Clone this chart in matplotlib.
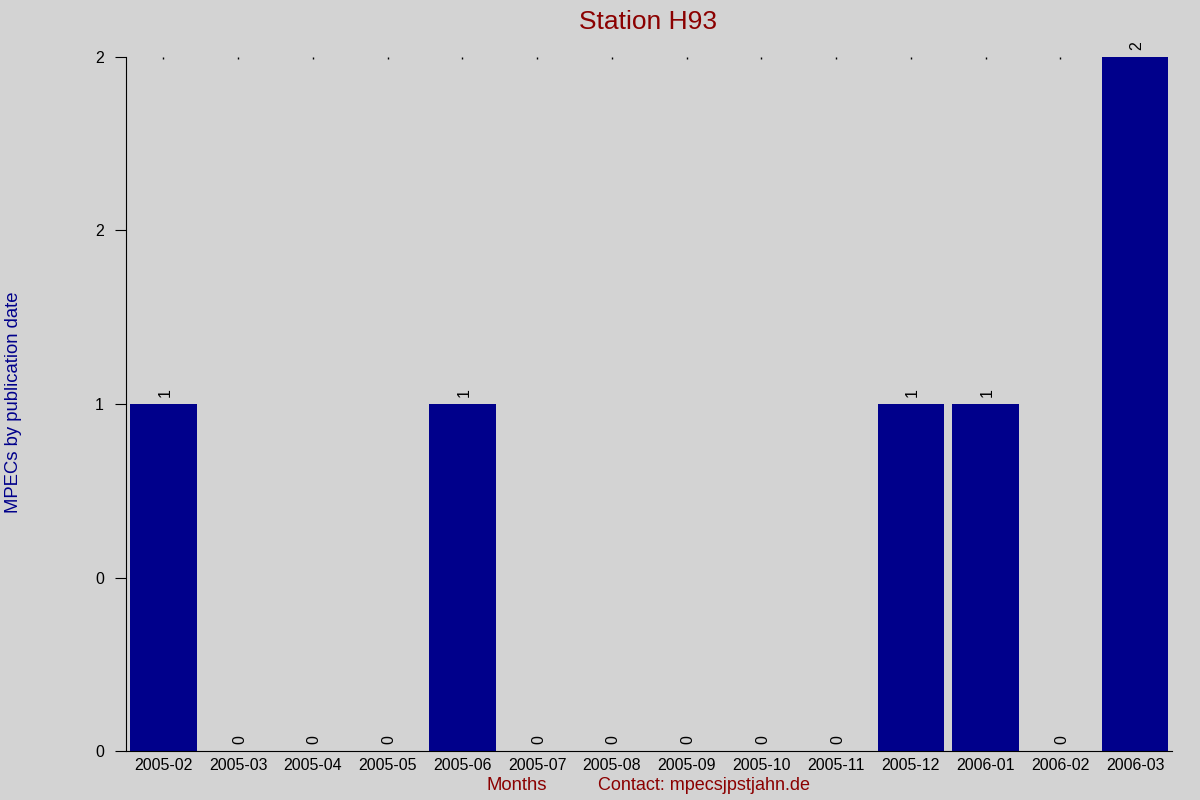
import matplotlib
import matplotlib.pyplot as plt
import numpy as np
from matplotlib.ticker import FuncFormatter

matplotlib.use("Agg")

months = [
	"2005-02", "2005-03", "2005-04", "2005-05", "2005-06", "2005-07", "2005-08",
	"2005-09", "2005-10", "2005-11", "2005-12", "2006-01", "2006-02", "2006-03",
]
counts = [1, 0, 0, 0, 1, 0, 0, 0, 0, 0, 1, 1, 0, 2]
y_ticks = [0, 0.5, 1, 1.5, 2]

plt.rcParams["font.family"] = ["Liberation Sans", "DejaVu Sans"]

bg = "#d3d3d3"
fig = plt.figure(figsize=(12, 8), dpi=100, facecolor=bg)
ax = fig.add_axes([0.105, 0.061, 0.872, 0.868], facecolor=bg)

x = np.arange(len(months))
ax.bar(x, counts, width=0.89, color="#00008b")

for xi, v in zip(x, counts):
	ax.text(xi + 0.02, v + 0.02, str(v), rotation=90, ha="center", va="bottom", fontsize=11.5, color="black")

ax.set_xlim(-0.5, len(months) - 0.5)
ax.set_ylim(0, 2)
ax.set_xticks(x)
ax.set_xticklabels(months, fontsize=11.5)
ax.set_yticks(y_ticks)
ax.yaxis.set_major_formatter(FuncFormatter(lambda v, p: f"{v:.0f}"))
ax.tick_params(axis="y", labelsize=11.5, length=8, pad=8)
ax.tick_params(axis="x", length=0, pad=5)

# tiny marks along the top edge at each month
top = ax.secondary_xaxis("top")
top.set_xticks(x)
top.set_xticklabels([])
top.tick_params(length=1.2, width=1, direction="in", color="black")
top.spines["top"].set_visible(False)

ax.spines["top"].set_visible(False)
ax.spines["right"].set_visible(False)

fig.text(0.54, 0.973, "Station H93", ha="center", va="center", fontsize=19, color="#8b0000")
fig.text(0.011, 0.497, "MPECs by publication date", rotation=90, ha="center", va="center",
	fontsize=13.3, color="#00008b")
fig.text(0.431, 0.018, "Months", ha="center", va="center", fontsize=13.3, color="#8b0000")
fig.text(0.587, 0.018, "Contact: mpecsjpstjahn.de", ha="center", va="center", fontsize=13, color="#8b0000")

fig.savefig("out.png", dpi=100, facecolor=bg)
